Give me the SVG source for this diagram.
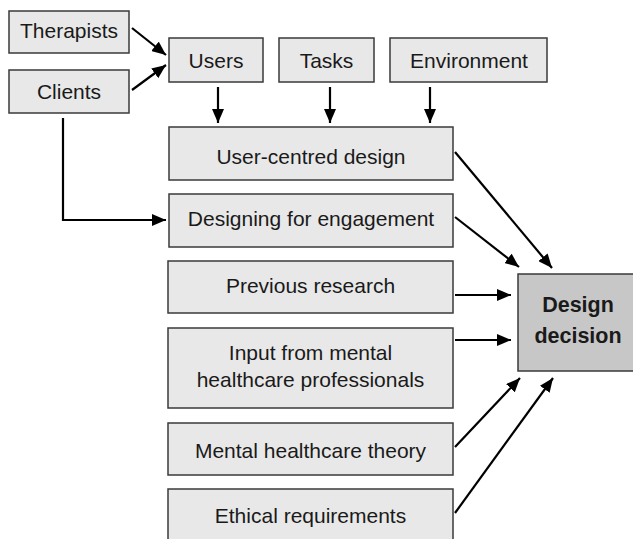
<svg xmlns="http://www.w3.org/2000/svg" width="633" height="539" viewBox="0 0 633 539">
<defs>
<marker id="ah" markerUnits="userSpaceOnUse" markerWidth="14" markerHeight="12" viewBox="0 0 14 12" refX="14" refY="6" orient="auto">
<path d="M0,0 L14,6 L0,12 Z" fill="#000"/>
</marker>
<style>
.box{fill:#e8e8e8;stroke:#3a3a3a;stroke-width:1.5}
.dd{fill:#c7c7c7;stroke:#3a3a3a;stroke-width:1.5}
text{font-family:"Liberation Sans",Arial,sans-serif;font-size:21px;fill:#1a1a1a;text-anchor:middle}
.b{font-weight:bold;font-size:21.5px}
.c{fill:none;stroke:#000;stroke-width:2.2;marker-end:url(#ah)}
</style>
</defs>
<rect width="633" height="539" fill="#fff"/>
<g id="therapists"><rect class="box" x="9" y="11" width="120" height="42"/><text x="69" y="38">Therapists</text></g>
<g id="clients"><rect class="box" x="9" y="70" width="120" height="43"/><text x="69" y="99">Clients</text></g>
<g id="users"><rect class="box" x="169" y="38" width="94" height="44"/><text x="216" y="68">Users</text></g>
<g id="tasks"><rect class="box" x="279" y="38" width="95" height="44"/><text x="326.5" y="68">Tasks</text></g>
<g id="environment"><rect class="box" x="390" y="38" width="157" height="44"/><text x="469" y="68">Environment</text></g>
<g id="ucd"><rect class="box" x="169" y="127" width="284" height="53"/><text x="311" y="164">User-centred design</text></g>
<g id="dfe"><rect class="box" x="169" y="194" width="284" height="53"/><text x="311" y="226">Designing for engagement</text></g>
<g id="prev"><rect class="box" x="168" y="261" width="285" height="52"/><text x="310.5" y="293">Previous research</text></g>
<g id="input"><rect class="box" x="168" y="328" width="285" height="80"/><text x="310.5" y="360">Input from mental</text><text x="310.5" y="387">healthcare professionals</text></g>
<g id="theory"><rect class="box" x="168" y="423" width="285" height="52"/><text x="310.5" y="458">Mental healthcare theory</text></g>
<g id="ethical"><rect class="box" x="168" y="489" width="285" height="60"/><text x="310.5" y="523">Ethical requirements</text></g>
<g id="decision"><rect class="dd" x="518" y="274" width="120" height="97"/><text class="b" x="578" y="312">Design</text><text class="b" x="578" y="343">decision</text></g>
<g id="connectors">
<line class="c" x1="132" y1="28" x2="166" y2="55"/>
<line class="c" x1="132" y1="90" x2="166" y2="65"/>
<line class="c" x1="218" y1="87" x2="218" y2="123"/>
<line class="c" x1="330" y1="87" x2="330" y2="123"/>
<line class="c" x1="430" y1="87" x2="430" y2="123"/>
<path class="c" d="M63,118 V220 H166"/>
<line class="c" x1="455" y1="152" x2="552" y2="268"/>
<line class="c" x1="455" y1="217" x2="519" y2="267"/>
<line class="c" x1="455" y1="295" x2="511" y2="295"/>
<line class="c" x1="455" y1="340" x2="511" y2="340"/>
<line class="c" x1="455" y1="447" x2="520" y2="378"/>
<line class="c" x1="455" y1="513" x2="553" y2="378"/>
</g>
</svg>
